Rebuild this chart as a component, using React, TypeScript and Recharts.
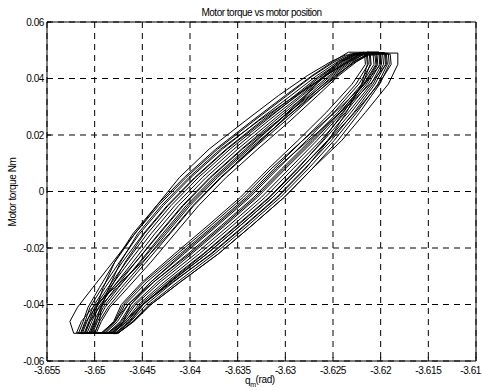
import React from 'react';
import { LineChart, Line, XAxis, YAxis, CartesianGrid, ReferenceLine } from 'recharts';

// axis ticks
const xTicks = [-3.655, -3.65, -3.645, -3.64, -3.635, -3.63, -3.625, -3.62, -3.615, -3.61];
const xTickLabels = ['-3.655', '-3.65', '-3.645', '-3.64', '-3.635', '-3.63', '-3.625', '-3.62', '-3.615', '-3.61'];
const yTicks = [-0.06, -0.04, -0.02, 0, 0.02, 0.04, 0.06];
const yTickLabels = ['-0.06', '-0.04', '-0.02', '0', '0.02', '0.04', '0.06'];

const torqueUpLevels = [-0.046, -0.041, -0.034, -0.025, -0.015, -0.005, 0.005, 0.015, 0.025, 0.034, 0.041, 0.046];
const torqueDownLevels = [0.045, 0.038, 0.028, 0.018, 0.008, -0.002, -0.012, -0.022, -0.032, -0.040, -0.046];

// turning points of each cycle
const peakTorque = [
  0.049, 0.0483, 0.0492, 0.0488, 0.0494, 0.0489, 0.0491, 0.0487, 0.0493, 0.049, 0.0488, 0.0492, 0.0489,
  0.0491, 0.0486, 0.0493, 0.049, 0.0487, 0.0492,
];
const valleyTorque = [
  -0.05, -0.0502, -0.0501, -0.0503, -0.05, -0.0502, -0.0499, -0.0502, -0.0501, -0.0503, -0.05, -0.0502, -0.0501,
  -0.0502, -0.05, -0.0503, -0.0501, -0.0502, -0.05,
];

// the record starts half way up the first loop
const startPosition = [-3.6352, -3.63, -3.6249, -3.6228, -3.6212];
const startTorque = [0.01, 0.026, 0.04, 0.046, 0.049];

// rising branches: valley corner, torqueUpLevels, then top-left point
const upBranches = [
  [-3.6522, -3.6526, -3.6518, -3.6502, -3.6481, -3.6458, -3.6435, -3.6411, -3.638, -3.6342, -3.6307, -3.6277, -3.6252, -3.6237],
  [-3.6508, -3.6503, -3.6496, -3.6481, -3.646, -3.6437, -3.6412, -3.6383, -3.635, -3.6314, -3.6282, -3.6257, -3.6236, -3.622],
  [-3.6515, -3.651, -3.6505, -3.6492, -3.6474, -3.6453, -3.6428, -3.6399, -3.6366, -3.6329, -3.6294, -3.6267, -3.6245, -3.6229],
  [-3.6502, -3.6497, -3.6489, -3.6472, -3.6449, -3.6425, -3.64, -3.6371, -3.6338, -3.6303, -3.6273, -3.625, -3.623, -3.6214],
  [-3.6511, -3.6506, -3.65, -3.6486, -3.6467, -3.6445, -3.642, -3.6391, -3.6358, -3.6321, -3.6288, -3.6262, -3.624, -3.6224],
  [-3.6498, -3.6493, -3.6484, -3.6465, -3.6441, -3.6416, -3.6391, -3.6362, -3.6329, -3.6295, -3.6266, -3.6244, -3.6225, -3.6209],
  [-3.6517, -3.6512, -3.6507, -3.6495, -3.6479, -3.6458, -3.6433, -3.6404, -3.6371, -3.6333, -3.6298, -3.6271, -3.6248, -3.6232],
  [-3.6506, -3.6501, -3.6493, -3.6478, -3.6457, -3.6433, -3.6408, -3.6379, -3.6346, -3.6311, -3.6279, -3.6254, -3.6234, -3.6218],
  [-3.6513, -3.6508, -3.6502, -3.6489, -3.6471, -3.6449, -3.6424, -3.6395, -3.6362, -3.6325, -3.629, -3.6264, -3.6242, -3.6226],
  [-3.65, -3.6495, -3.6486, -3.6469, -3.6446, -3.6421, -3.6396, -3.6367, -3.6334, -3.63, -3.627, -3.6247, -3.6228, -3.6212],
  [-3.651, -3.6505, -3.6498, -3.6484, -3.6464, -3.6441, -3.6416, -3.6387, -3.6354, -3.6318, -3.6284, -3.6259, -3.6238, -3.6222],
  [-3.6504, -3.6499, -3.6491, -3.6475, -3.6453, -3.6429, -3.6404, -3.6375, -3.6342, -3.6307, -3.6276, -3.6252, -3.6232, -3.6216],
  [-3.65, -3.6495, -3.6493, -3.6485, -3.6473, -3.6455, -3.643, -3.6401, -3.6368, -3.6328, -3.6289, -3.6258, -3.6233, -3.6217],
  [-3.6519, -3.6514, -3.6502, -3.6479, -3.645, -3.6422, -3.6397, -3.6368, -3.6335, -3.6304, -3.6278, -3.6261, -3.6244, -3.6228],
  [-3.6505, -3.65, -3.6498, -3.6491, -3.6479, -3.646, -3.6435, -3.6406, -3.6373, -3.6335, -3.63, -3.6272, -3.625, -3.6234],
  [-3.6514, -3.6509, -3.6499, -3.6481, -3.6457, -3.6432, -3.6407, -3.6378, -3.6345, -3.6308, -3.6274, -3.6248, -3.6226, -3.621],
  [-3.651, -3.6505, -3.6495, -3.6476, -3.6452, -3.6427, -3.6402, -3.6373, -3.634, -3.6307, -3.6279, -3.6259, -3.6241, -3.6225],
  [-3.6503, -3.6498, -3.6494, -3.6483, -3.6468, -3.6448, -3.6423, -3.6394, -3.6361, -3.6323, -3.6287, -3.6258, -3.6235, -3.6219],
];

// falling branches: top-right point, torqueDownLevels, then valley point
const downBranches = [
  [-3.6182, -3.6182, -3.6192, -3.6216, -3.6241, -3.6272, -3.6301, -3.6335, -3.637, -3.641, -3.6441, -3.6459, -3.6475],
  [-3.6206, -3.6205, -3.6218, -3.6242, -3.627, -3.63, -3.6329, -3.6363, -3.6398, -3.6434, -3.6459, -3.6472, -3.6485],
  [-3.6196, -3.6195, -3.6206, -3.6228, -3.6252, -3.628, -3.6309, -3.6343, -3.6378, -3.6417, -3.6446, -3.6462, -3.6478],
  [-3.6214, -3.6213, -3.6226, -3.6252, -3.6282, -3.6312, -3.6341, -3.6375, -3.641, -3.6445, -3.6468, -3.6478, -3.649],
  [-3.6202, -3.6201, -3.6213, -3.6237, -3.6263, -3.6292, -3.6321, -3.6355, -3.639, -3.6427, -3.6454, -3.6468, -3.6482],
  [-3.6194, -3.6193, -3.6203, -3.6225, -3.6249, -3.6276, -3.6305, -3.6339, -3.6374, -3.6413, -3.6443, -3.646, -3.6476],
  [-3.6211, -3.621, -3.6223, -3.6249, -3.6278, -3.6308, -3.6337, -3.6371, -3.6406, -3.6441, -3.6465, -3.6476, -3.6488],
  [-3.62, -3.6199, -3.621, -3.6234, -3.626, -3.6288, -3.6317, -3.6351, -3.6386, -3.6424, -3.6452, -3.6466, -3.6481],
  [-3.6217, -3.6216, -3.623, -3.6257, -3.6287, -3.6318, -3.6347, -3.6381, -3.6416, -3.645, -3.6472, -3.648, -3.6492],
  [-3.6198, -3.6197, -3.6208, -3.6231, -3.6256, -3.6284, -3.6313, -3.6347, -3.6382, -3.642, -3.6449, -3.6464, -3.6479],
  [-3.6208, -3.6207, -3.622, -3.6245, -3.6274, -3.6304, -3.6333, -3.6367, -3.6402, -3.6438, -3.6462, -3.6473, -3.6486],
  [-3.6204, -3.6203, -3.6215, -3.624, -3.6267, -3.6296, -3.6325, -3.6359, -3.6394, -3.6431, -3.6457, -3.647, -3.6484],
  [-3.6192, -3.6191, -3.6201, -3.6222, -3.6245, -3.6272, -3.6301, -3.6335, -3.637, -3.641, -3.6441, -3.6459, -3.6475],
  [-3.6215, -3.6214, -3.622, -3.6236, -3.6255, -3.6279, -3.6308, -3.6342, -3.6377, -3.6418, -3.645, -3.6469, -3.6487],
  [-3.619, -3.6189, -3.6202, -3.6227, -3.6255, -3.6284, -3.6313, -3.6347, -3.6382, -3.6421, -3.645, -3.6466, -3.6482],
  [-3.6212, -3.6211, -3.6219, -3.6239, -3.6261, -3.6287, -3.6316, -3.635, -3.6385, -3.6422, -3.6449, -3.6463, -3.6477],
  [-3.6201, -3.62, -3.6217, -3.6248, -3.6282, -3.6315, -3.6344, -3.6378, -3.6413, -3.6448, -3.647, -3.6479, -3.6491],
  [-3.6195, -3.6194, -3.6211, -3.6242, -3.6276, -3.631, -3.6339, -3.6373, -3.6408, -3.6441, -3.6462, -3.647, -3.648],
  [-3.6205, -3.6204, -3.6217, -3.6243, -3.6272, -3.6302, -3.6331, -3.6365, -3.64, -3.6438, -3.6465, -3.6479, -3.6493],
];

// chain the branches into one trajectory, in time order
const trajectory: { x: number; y: number }[] = [];
startPosition.forEach((x, i) => trajectory.push({ x, y: startTorque[i] }));
downBranches.forEach((down, c) => {
  if (c > 0) {
    const up = upBranches[c - 1];
    trajectory.push({ x: up[0], y: valleyTorque[c] });
    torqueUpLevels.forEach((t, i) => trajectory.push({ x: up[i + 1], y: t }));
    trajectory.push({ x: up[13], y: peakTorque[c] });
  }
  trajectory.push({ x: down[0], y: peakTorque[c] });
  torqueDownLevels.forEach((t, i) => trajectory.push({ x: down[i + 1], y: t }));
  trajectory.push({ x: down[12], y: valleyTorque[c] });
});

const FONT = '"Liberation Sans", Arial, sans-serif';

const findIdx = (arr: number[], v: number) => arr.findIndex(a => Math.abs(a - v) < 1e-9);

const XTick = (props: any) => {
  const { x, y, payload } = props;
  const i = findIdx(xTicks, payload.value);
  const last = i === xTicks.length - 1;
  return (
    <g>
      <line x1={x} x2={x} y1={y} y2={y - 4} stroke="#000" />
      <text
        x={last ? x + 5 : x}
        y={y + 13}
        textAnchor={last ? 'end' : 'middle'}
        fontSize={10}
        fontFamily={FONT}
        letterSpacing={-0.4}
        fill="#000"
      >
        {xTickLabels[i]}
      </text>
    </g>
  );
};

const YTick = (props: any) => {
  const { x, y, payload } = props;
  const i = findIdx(yTicks, payload.value);
  return (
    <g>
      <line x1={x} x2={x + 4} y1={y} y2={y} stroke="#000" />
      <text x={x - 3} y={y} dy="0.35em" textAnchor="end" fontSize={10} fontFamily={FONT} letterSpacing={-0.4} fill="#000">
        {yTickLabels[i]}
      </text>
    </g>
  );
};

export default function App() {
  return (
    <div style={{ position: 'absolute', left: 0, top: 0, width: 482, height: 390, background: '#fff' }}>
      <LineChart width={482} height={390} data={trajectory} margin={{ top: 22, right: 6, bottom: 0, left: 0 }}>
        <CartesianGrid stroke="#000" strokeDasharray="6 5" />
        <XAxis
          dataKey="x"
          type="number"
          domain={[-3.655, -3.61]}
          ticks={xTicks}
          interval={0}
          allowDataOverflow
          height={29}
          tickSize={0}
          tickMargin={0}
          tickLine={false}
          axisLine={{ stroke: '#000' }}
          tick={<XTick />}
        />
        <YAxis
          type="number"
          domain={[-0.06, 0.06]}
          ticks={yTicks}
          interval={0}
          allowDataOverflow
          width={47}
          tickSize={0}
          tickMargin={0}
          tickLine={false}
          axisLine={{ stroke: '#000' }}
          tick={<YTick />}
        />
        <ReferenceLine y={0.06} stroke="#000" />
        <ReferenceLine x={-3.61} stroke="#000" />
        <Line
          type="linear"
          dataKey="y"
          stroke="#000"
          strokeWidth={1}
          dot={false}
          activeDot={false}
          isAnimationActive={false}
        />
      </LineChart>
      <svg width={482} height={390} style={{ position: 'absolute', left: 0, top: 0, pointerEvents: 'none' }}>
        <text x={261.5} y={16} textAnchor="middle" fontSize={10} fontFamily={FONT} letterSpacing={-0.5} fill="#000">
          Motor torque vs motor position
        </text>
        <text
          x={0}
          y={0}
          transform="translate(16,192) rotate(-90)"
          textAnchor="middle"
          fontSize={10}
          fontFamily={FONT}
          letterSpacing={-0.4}
          fill="#000"
        >
          Motor torque Nm
        </text>
        <text x={245} y={384} fontSize={10} fontFamily={FONT} letterSpacing={-0.4} fill="#000">
          q
          <tspan dy={3} fontSize={7}>m</tspan>
          <tspan dy={-4}>(rad)</tspan>
        </text>
      </svg>
    </div>
  );
}
